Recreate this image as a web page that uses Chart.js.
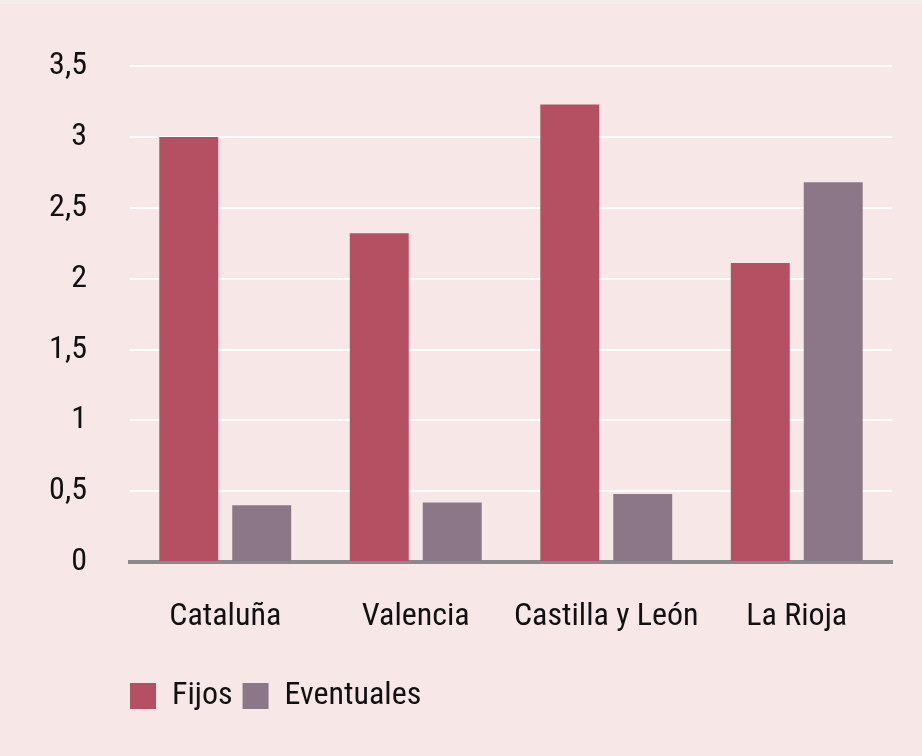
<!DOCTYPE html>
<html>
<head>
<meta charset="utf-8">
<script src="https://cdn.jsdelivr.net/npm/chart.js@4/dist/chart.umd.min.js"></script>
<style>
  html, body { margin: 0; padding: 0; background: #f7e8e7; }
  #wrap { width: 922px; height: 756px; position: relative; border-top: 4px solid #f4eeec; box-sizing: border-box; }
  canvas { display: block; }
</style>
</head>
<body>
<div id="wrap"><canvas id="c" width="922" height="752"></canvas></div>
<script>
const categories = ["Cataluña", "Valencia", "Castilla y León", "La Rioja"];
const fijos = [3.0, 2.32, 3.23, 2.11];
const eventuales = [0.4, 0.42, 0.48, 2.68];
const seriesNames = ["Fijos", "Eventuales"];
const yTicks = [0, 0.5, 1, 1.5, 2, 2.5, 3, 3.5];

const FONT = "'Roboto Condensed', 'Liberation Sans Narrow', 'Arial Narrow', 'DejaVu Sans Condensed', sans-serif";

const shiftLegend = {
  id: 'shiftLegend',
  afterLayout(chart) {
    const lg = chart.legend;
    if (lg) { lg.left += 120; lg.right += 120; }
  }
};

new Chart(document.getElementById('c'), {
  type: 'bar',
  data: {
    labels: categories,
    datasets: [
      { label: seriesNames[0], data: fijos, backgroundColor: '#b55062' },
      { label: seriesNames[1], data: eventuales, backgroundColor: '#8b7788' }
    ]
  },
  plugins: [shiftLegend],
  options: {
    responsive: false,
    animation: false,
    devicePixelRatio: 1,
    layout: { padding: { top: 62, right: 30, bottom: 34, left: 0 } },
    datasets: { bar: { categoryPercentage: 0.766, barPercentage: 0.808 } },
    scales: {
      x: {
        z: 1,
        grid: { display: false, drawTicks: false },
        border: { display: true, color: '#8a8a8a', width: 4 },
        ticks: { color: '#111', font: { family: FONT, size: 32 }, padding: 36, maxRotation: 0, minRotation: 0, autoSkip: false },
        afterFit: s => { s.height = 108; }
      },
      y: {
        min: 0, max: 3.5,
        afterBuildTicks: s => { s.ticks = yTicks.map(v => ({ value: v })); },
        grid: { color: '#ffffff', lineWidth: 2, drawTicks: false },
        border: { display: false },
        ticks: {
          color: '#111', font: { family: FONT, size: 32 }, padding: 43,
          callback: v => String(v).replace('.', ',')
        },
        afterFit: s => { s.width = 130; }
      }
    },
    plugins: {
      legend: {
        position: 'bottom', align: 'start',
        labels: {
          color: '#111', font: { family: FONT, size: 32 },
          boxWidth: 26, boxHeight: 26, padding: 10
        }
      },
      tooltip: { enabled: false }
    }
  }
});
</script>
</body>
</html>
